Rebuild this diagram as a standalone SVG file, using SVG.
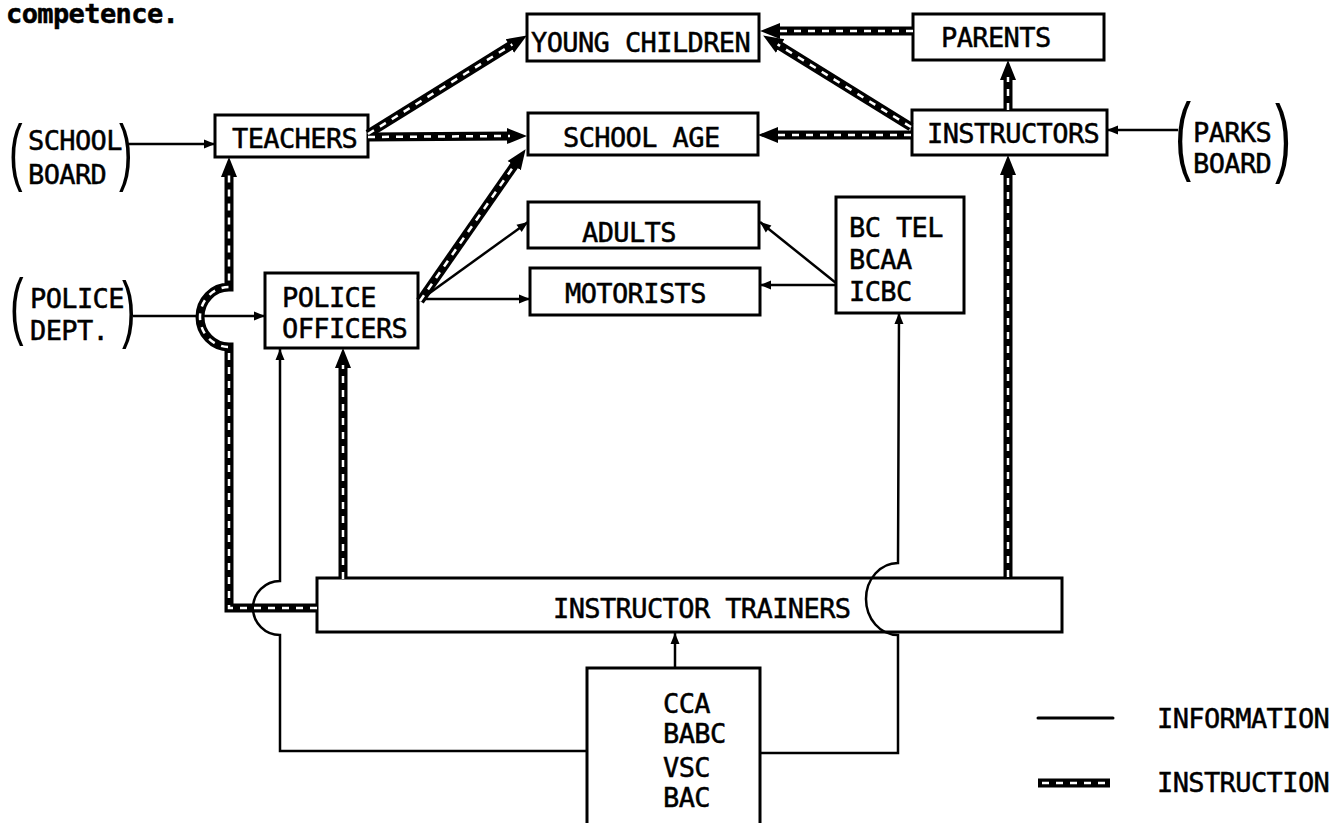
<svg xmlns="http://www.w3.org/2000/svg" width="1331" height="823" viewBox="0 0 1331 823">
<style>
.box{fill:#fff;stroke:#000;stroke-width:3}
.t{font-family:"DejaVu Sans Mono","Liberation Mono",monospace;font-size:27px;letter-spacing:-0.6px;fill:#000;stroke:#000;stroke-width:0.5}
.p{font-family:"Liberation Sans",sans-serif;fill:#000}
.info{fill:none;stroke:#000;stroke-width:2.5}
.insb{fill:none;stroke:#000;stroke-width:9}
.insw{fill:none;stroke:#fff;stroke-width:2.5;stroke-dasharray:7 7}
</style>
<defs>
<marker id="ah" markerUnits="userSpaceOnUse" viewBox="-3 -9 21 18" markerWidth="21" markerHeight="18" refX="0" refY="0" orient="auto"><path d="M-3,-8 L17,0 L-3,8z" fill="#000"/></marker>
<marker id="ai" markerUnits="userSpaceOnUse" viewBox="-12 -6 13 12" markerWidth="13" markerHeight="12" refX="0" refY="0" orient="auto"><path d="M-11,-4.5 L0,0 L-11,4.5z" fill="#000"/></marker>
</defs>
<rect width="1331" height="823" fill="#fff"/>
<text class="t" x="6" y="23" font-weight="bold" font-size="26" letter-spacing="0">competence.</text>

<g id="school-board">
<text class="p" font-size="74" transform="translate(9,177) scale(0.55,1)">(</text>
<text class="t" x="28" y="150">SCHOOL</text>
<text class="t" x="28" y="184">BOARD</text>
<text class="p" font-size="74" transform="translate(119,177) scale(0.55,1)">)</text>
</g>
<g id="police-dept">
<text class="p" font-size="74" transform="translate(10,331) scale(0.55,1)">(</text>
<text class="t" x="30" y="308">POLICE</text>
<text class="t" x="30" y="340">DEPT.</text>
<text class="p" font-size="74" transform="translate(122,334) scale(0.55,1)">)</text>
</g>
<g id="parks-board">
<text class="p" font-size="88" transform="translate(1175,164) scale(0.55,1)">(</text>
<text class="t" x="1193" y="142">PARKS</text>
<text class="t" x="1193" y="173">BOARD</text>
<text class="p" font-size="88" transform="translate(1275,166) scale(0.55,1)">)</text>
</g>
<g id="teachers"><rect class="box" x="215" y="115" width="153" height="42"/><text class="t" x="232" y="148">TEACHERS</text></g>
<g id="young-children"><rect class="box" x="527" y="14" width="232" height="47"/><text class="t" x="531" y="52">YOUNG CHILDREN</text></g>
<g id="school-age"><rect class="box" x="528" y="113" width="230" height="42"/><text class="t" x="563" y="147">SCHOOL AGE</text></g>
<g id="parents"><rect class="box" x="913" y="14" width="191" height="46"/><text class="t" x="941" y="47">PARENTS</text></g>
<g id="instructors"><rect class="box" x="912" y="110" width="195" height="45"/><text class="t" x="927" y="143">INSTRUCTORS</text></g>
<g id="adults"><rect class="box" x="528" y="202" width="231" height="46"/><text class="t" x="582" y="242">ADULTS</text></g>
<g id="motorists"><rect class="box" x="530" y="268" width="230" height="47"/><text class="t" x="565" y="303">MOTORISTS</text></g>
<g id="bctel"><rect class="box" x="836" y="197" width="128" height="116"/>
<text class="t" x="849" y="237">BC TEL</text><text class="t" x="849" y="269">BCAA</text><text class="t" x="849" y="301">ICBC</text></g>
<g id="police-officers"><rect class="box" x="265" y="273" width="153" height="75"/>
<text class="t" x="282" y="307">POLICE</text><text class="t" x="282" y="338">OFFICERS</text></g>
<g id="instructor-trainers"><rect class="box" x="317" y="578" width="745" height="54"/><text class="t" x="553" y="618">INSTRUCTOR TRAINERS</text></g>
<g id="cca"><rect class="box" x="587" y="668" width="173" height="170"/>
<text class="t" x="663" y="713">CCA</text><text class="t" x="663" y="743">BABC</text><text class="t" x="663" y="777">VSC</text><text class="t" x="663" y="807">BAC</text></g>

<g id="connectors">
<g marker-end="url(#ai)">
<path class="info" d="M128,144 L215,144"/>
<path class="info" d="M133,316 L265,316"/>
<path class="info" d="M1178,130 L1107,130"/>
<path class="info" d="M420,300 L528,222"/>
<path class="info" d="M420,299 L530,299"/>
<path class="info" d="M836,283 L760,222"/>
<path class="info" d="M836,285 L760,285"/>
<path class="info" d="M675,668 L675,633"/>
<path class="info" d="M587,751 L280,751 L280,635 A27,27 0 0 1 280,581 L280,349"/>
<path class="info" d="M760,753 L898,753 L898,635 A32,36 0 0 1 898,563 L899,313"/>
</g>
<g marker-end="url(#ah)">
<path class="insb" d="M368,134 L512.4,44.4"/>
<path class="insb" d="M368,137 L510,136"/>
<path class="insb" d="M420,301 L515.9,163.1"/>
<path class="insb" d="M913,31 L777,31"/>
<path class="insb" d="M911,127 L777.6,44.4"/>
<path class="insb" d="M911,135 L775,135"/>
<path class="insb" d="M1008,110 L1008,77"/>
<path class="insb" d="M1008,577 L1008,172"/>
<path class="insb" d="M343,579 L343,365"/>
<path class="insb" d="M317,608 L229,608 L229,347 A29,30 0 0 1 229,287 L229,174"/>
</g>
<path class="insw" d="M368,134 L512.4,44.4"/>
<path class="insw" d="M368,137 L510,136"/>
<path class="insw" d="M420,301 L515.9,163.1"/>
<path class="insw" d="M913,31 L777,31"/>
<path class="insw" d="M911,127 L777.6,44.4"/>
<path class="insw" d="M911,135 L775,135"/>
<path class="insw" d="M1008,110 L1008,77"/>
<path class="insw" d="M1008,577 L1008,172"/>
<path class="insw" d="M343,579 L343,365"/>
<path class="insw" d="M317,608 L229,608 L229,347 A29,30 0 0 1 229,287 L229,174"/>
</g>

<g id="legend">
<path d="M1038,718 L1113,718" stroke="#000" stroke-width="3" stroke-linecap="round"/>
<text class="t" x="1157" y="728">INFORMATION</text>
<path class="insb" d="M1038,783 L1110,783"/>
<path class="insw" d="M1042,783 L1106,783"/>
<text class="t" x="1157" y="792">INSTRUCTION</text>
</g>
</svg>
